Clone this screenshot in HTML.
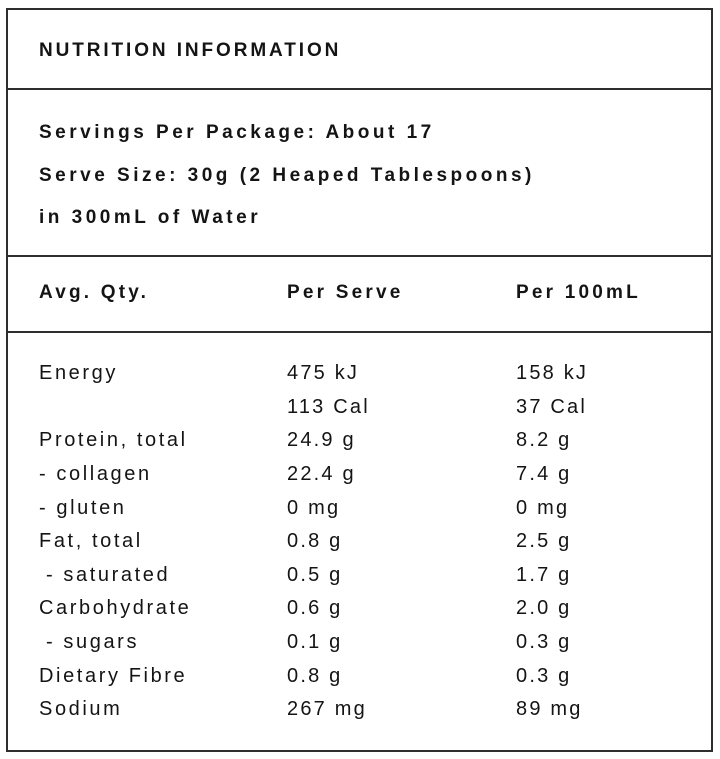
<!DOCTYPE html>
<html>
<head>
<meta charset="utf-8">
<style>
  html, body { margin:0; padding:0; background:#fff; }
  body { width:720px; height:759px; position:relative; overflow:hidden;
         font-family:"Liberation Sans", "DejaVu Sans", sans-serif; color:#141414; }
  .box { position:absolute; left:6px; top:8px; width:703px; height:740px;
         border:2px solid #2e2e2e; }
  .hr { position:absolute; left:6px; width:707px; height:2px; background:#2e2e2e; }
  .t { position:absolute; white-space:pre; line-height:1; }
  .title { font-size:19px; font-weight:bold; letter-spacing:2.9px; }
  .b { font-size:19px; font-weight:bold; letter-spacing:3.5px; }
  .h { font-size:19px; font-weight:bold; letter-spacing:3.2px; }
  .d { font-size:20px; letter-spacing:2.6px; }
  .v { font-size:20px; letter-spacing:2.2px; }
</style>
</head>
<body>
<div class="box"></div>
<div class="hr" style="top:88px"></div>
<div class="hr" style="top:255px"></div>
<div class="hr" style="top:331px"></div>

<div class="t title" style="left:39px; top:40.6px">NUTRITION INFORMATION</div>

<div class="t b" style="left:39px; top:122.9px">Servings Per Package: About 17</div>
<div class="t b" style="left:39px; top:165.9px">Serve Size: 30g (2 Heaped Tablespoons)</div>
<div class="t b" style="left:39px; top:207.9px">in 300mL of Water</div>

<div class="t h" style="left:39px; top:282.9px">Avg. Qty.</div>
<div class="t h" style="left:287px; top:282.9px">Per Serve</div>
<div class="t h" style="left:516px; top:282.9px">Per 100mL</div>

<div class="t d" style="left:39px; top:363.1px">Energy</div>
<div class="t v" style="left:287px; top:363.1px">475 kJ</div>
<div class="t v" style="left:516px; top:363.1px">158 kJ</div>

<div class="t v" style="left:287px; top:396.7px">113 Cal</div>
<div class="t v" style="left:516px; top:396.7px">37 Cal</div>

<div class="t d" style="left:39px; top:430.3px">Protein, total</div>
<div class="t v" style="left:287px; top:430.3px">24.9 g</div>
<div class="t v" style="left:516px; top:430.3px">8.2 g</div>

<div class="t d" style="left:39px; top:463.9px">- collagen</div>
<div class="t v" style="left:287px; top:463.9px">22.4 g</div>
<div class="t v" style="left:516px; top:463.9px">7.4 g</div>

<div class="t d" style="left:39px; top:497.5px">- gluten</div>
<div class="t v" style="left:287px; top:497.5px">0 mg</div>
<div class="t v" style="left:516px; top:497.5px">0 mg</div>

<div class="t d" style="left:39px; top:531.1px">Fat, total</div>
<div class="t v" style="left:287px; top:531.1px">0.8 g</div>
<div class="t v" style="left:516px; top:531.1px">2.5 g</div>

<div class="t d" style="left:46px; top:564.7px">- saturated</div>
<div class="t v" style="left:287px; top:564.7px">0.5 g</div>
<div class="t v" style="left:516px; top:564.7px">1.7 g</div>

<div class="t d" style="left:39px; top:598.3px">Carbohydrate</div>
<div class="t v" style="left:287px; top:598.3px">0.6 g</div>
<div class="t v" style="left:516px; top:598.3px">2.0 g</div>

<div class="t d" style="left:46px; top:631.9px">- sugars</div>
<div class="t v" style="left:287px; top:631.9px">0.1 g</div>
<div class="t v" style="left:516px; top:631.9px">0.3 g</div>

<div class="t d" style="left:39px; top:665.5px">Dietary Fibre</div>
<div class="t v" style="left:287px; top:665.5px">0.8 g</div>
<div class="t v" style="left:516px; top:665.5px">0.3 g</div>

<div class="t d" style="left:39px; top:699.1px">Sodium</div>
<div class="t v" style="left:287px; top:699.1px">267 mg</div>
<div class="t v" style="left:516px; top:699.1px">89 mg</div>
</body>
</html>
